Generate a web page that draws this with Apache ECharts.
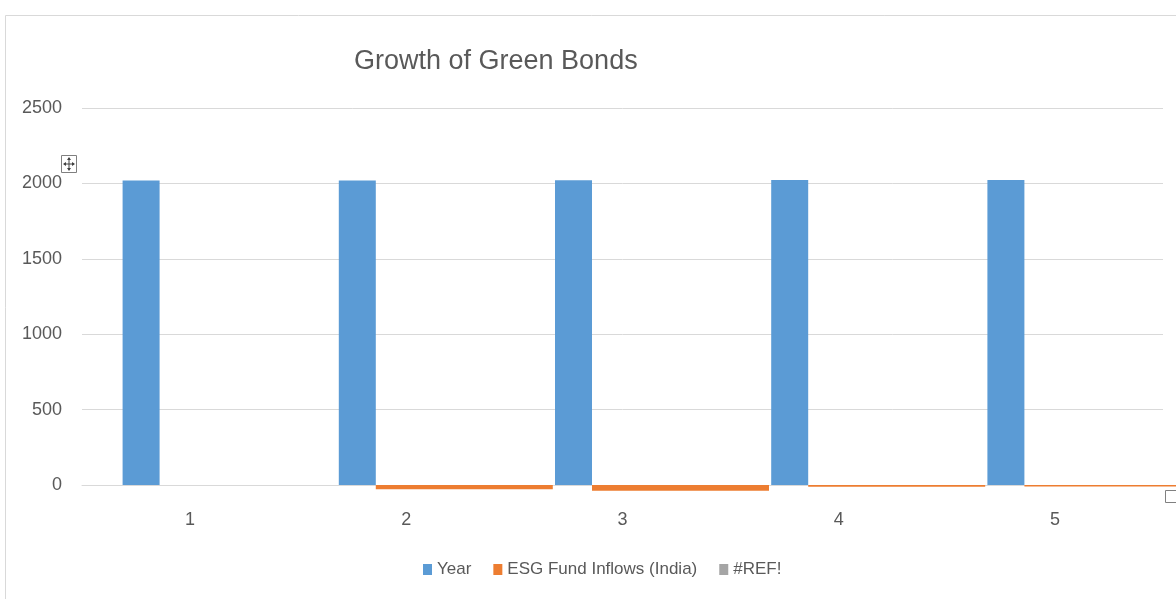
<!DOCTYPE html>
<html>
<head>
<meta charset="utf-8">
<script src="https://cdn.jsdelivr.net/npm/echarts@6/dist/echarts.min.js"></script>
<style>
html,body{margin:0;padding:0;background:#fff;}
#chart{width:1176px;height:599px;}
</style>
</head>
<body>
<div id="chart"></div>
<script>
// ---- data ----
const categories = ['1', '2', '3', '4', '5'];
const yearValues = [2019, 2020, 2021, 2022, 2023];
const esgInflows = [0, -28, -38, -12, -10];
const refValues = [null, null, null, null, null];
const yTicks = { min: 0, max: 2500, interval: 500 };
const titleText = 'Growth of Green Bonds';
const seriesNames = ['Year', 'ESG Fund Inflows (India)', '#REF!'];

const textColor = '#595959';
const font = 'Liberation Sans, Arial, sans-serif';

const chart = echarts.init(document.getElementById('chart'));
chart.setOption({
  animation: false,
  backgroundColor: '#ffffff',
  title: {
    text: titleText,
    left: 354,
    top: 48,
    padding: 0,
    textStyle: { color: textColor, fontSize: 27, fontWeight: 'normal', fontFamily: font }
  },
  legend: {
    data: seriesNames,
    left: 423,
    top: 561,
    padding: 0,
    icon: 'rect',
    itemWidth: 9,
    itemHeight: 11,
    itemGap: 22,
    textStyle: { color: textColor, fontSize: 17, fontFamily: font }
  },
  grid: { left: 82, right: 13, top: 108, bottom: 114, containLabel: false },
  xAxis: {
    type: 'category',
    data: categories,
    axisLine: { lineStyle: { color: '#d9d9d9', width: 1 } },
    axisTick: { show: false },
    axisLabel: { color: textColor, fontSize: 18, fontFamily: font, margin: 26 },
    splitLine: { show: false }
  },
  yAxis: {
    type: 'value',
    min: yTicks.min,
    max: yTicks.max,
    interval: yTicks.interval,
    axisLine: { show: false },
    axisTick: { show: false },
    axisLabel: { color: textColor, fontSize: 18, fontFamily: font, margin: 20, formatter: function (v) { return String(v); } },
    splitLine: { lineStyle: { color: '#d9d9d9', width: 1 } }
  },
  series: [
    {
      name: seriesNames[2],
      type: 'bar',
      data: refValues,
      barWidth: 79,
      barGap: '0%',
      itemStyle: { color: '#a5a5a5' }
    },
    {
      name: seriesNames[0],
      type: 'bar',
      data: yearValues,
      barWidth: 37,
      barGap: '0%',
      itemStyle: { color: '#5b9bd5' }
    },
    {
      name: seriesNames[1],
      type: 'bar',
      data: esgInflows,
      barWidth: 177,
      barGap: '0%',
      clip: false,
      itemStyle: { color: '#ed7d31' }
    }
  ],
  graphic: [
    { type: 'rect', shape: { x: 5.5, y: 15.5, width: 1200, height: 620 }, style: { fill: 'none', stroke: '#d9d9d9', lineWidth: 1 }, silent: true },
    { type: 'rect', shape: { x: 61.5, y: 155.5, width: 15, height: 17 }, style: { fill: '#fff', stroke: '#7f7f7f', lineWidth: 1 }, silent: true },
    { type: 'line', shape: { x1: 64, y1: 164, x2: 74, y2: 164 }, style: { stroke: '#404040', lineWidth: 1 }, silent: true },
    { type: 'line', shape: { x1: 69, y1: 158, x2: 69, y2: 170 }, style: { stroke: '#404040', lineWidth: 1 }, silent: true },
    { type: 'polygon', shape: { points: [[69, 157], [67, 160], [71, 160]] }, style: { fill: '#404040' }, silent: true },
    { type: 'polygon', shape: { points: [[69, 171], [67, 168], [71, 168]] }, style: { fill: '#404040' }, silent: true },
    { type: 'polygon', shape: { points: [[63, 164], [66, 162], [66, 166]] }, style: { fill: '#404040' }, silent: true },
    { type: 'polygon', shape: { points: [[75, 164], [72, 162], [72, 166]] }, style: { fill: '#404040' }, silent: true },
    { type: 'rect', shape: { x: 1165.5, y: 490.5, width: 12, height: 12 }, style: { fill: '#fff', stroke: '#808080', lineWidth: 1 }, silent: true }
  ]
});
</script>
</body>
</html>
